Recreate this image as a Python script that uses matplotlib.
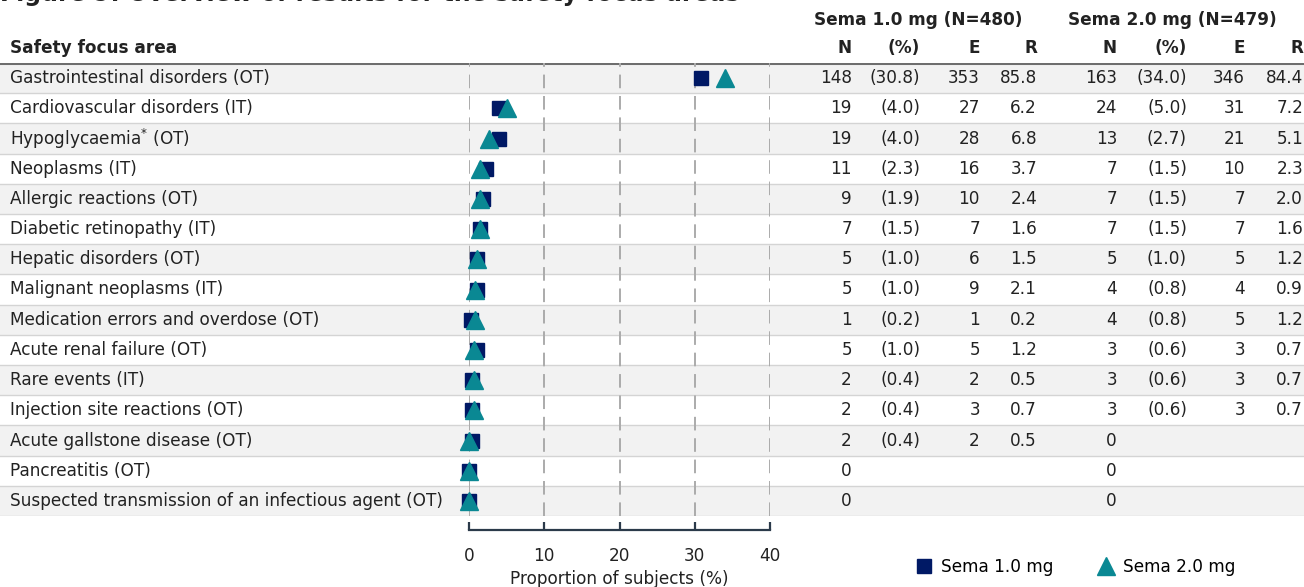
import matplotlib
matplotlib.use("Agg")
import matplotlib.pyplot as plt
from matplotlib.lines import Line2D

# data
areas = [
    "Gastrointestinal disorders (OT)",
    "Cardiovascular disorders (IT)",
    "Hypoglycaemia$^{*}$ (OT)",
    "Neoplasms (IT)",
    "Allergic reactions (OT)",
    "Diabetic retinopathy (IT)",
    "Hepatic disorders (OT)",
    "Malignant neoplasms (IT)",
    "Medication errors and overdose (OT)",
    "Acute renal failure (OT)",
    "Rare events (IT)",
    "Injection site reactions (OT)",
    "Acute gallstone disease (OT)",
    "Pancreatitis (OT)",
    "Suspected transmission of an infectious agent (OT)",
]
n_10 = [148, 19, 19, 11, 9, 7, 5, 5, 1, 5, 2, 2, 2, 0, 0]
pct_10 = [30.8, 4.0, 4.0, 2.3, 1.9, 1.5, 1.0, 1.0, 0.2, 1.0, 0.4, 0.4, 0.4, 0.0, 0.0]
e_10 = [353, 27, 28, 16, 10, 7, 6, 9, 1, 5, 2, 3, 2, None, None]
r_10 = [85.8, 6.2, 6.8, 3.7, 2.4, 1.6, 1.5, 2.1, 0.2, 1.2, 0.5, 0.7, 0.5, None, None]
n_20 = [163, 24, 13, 7, 7, 7, 5, 4, 4, 3, 3, 3, 0, 0, 0]
pct_20 = [34.0, 5.0, 2.7, 1.5, 1.5, 1.5, 1.0, 0.8, 0.8, 0.6, 0.6, 0.6, 0.0, 0.0, 0.0]
e_20 = [346, 31, 21, 10, 7, 7, 5, 4, 5, 3, 3, 3, None, None, None]
r_20 = [84.4, 7.2, 5.1, 2.3, 2.0, 1.6, 1.2, 0.9, 1.2, 0.7, 0.7, 0.7, None, None, None]
x_ticks = [0, 10, 20, 30, 40]

NAVY = "#001965"
TEAL = "#0a8893"
INK = "#222222"
W, H = 1304, 587
FS = 12.2

plt.rcParams["font.family"] = ["DejaVu Sans"]

fig = plt.figure(figsize=(W / 100, H / 100), dpi=100)

top_px, bot_px = 63, 516
nrows = len(areas)
ax_bottom = 1 - bot_px / H
ax_height = (bot_px - top_px) / H

# background/table axes spanning full width (x in pixels, y in rows)
bg = fig.add_axes([0, ax_bottom, 1, ax_height])
bg.set_xlim(0, W)
bg.set_ylim(nrows - 0.5, -0.5)
bg.axis("off")

for i in range(nrows):
    if i % 2 == 0:
        bg.axhspan(i - 0.5, i + 0.5, color="#f2f2f2", lw=0, zorder=0)
    bg.axhline(i + 0.5, color="#d4d4d4", lw=1, zorder=1)
bg.axhline(-0.5, color="#6e6e6e", lw=2.2, zorder=2)

def fmt_n(v):
    return "" if v is None else str(v)

def fmt_r(v):
    return "" if v is None else f"{v:.1f}"

cols_x = [852, 920, 980, 1037, 1117, 1187, 1245, 1303]
for i, name in enumerate(areas):
    bg.text(10, i, name, va="center", ha="left", fontsize=FS, color=INK)
    vals = [str(n_10[i]),
            f"({pct_10[i]:.1f})" if n_10[i] else "",
            fmt_n(e_10[i]), fmt_r(r_10[i]),
            str(n_20[i]),
            f"({pct_20[i]:.1f})" if n_20[i] else "",
            fmt_n(e_20[i]), fmt_r(r_20[i])]
    for x, v in zip(cols_x, vals):
        bg.text(x, i, v, va="center", ha="right", fontsize=FS, color=INK)

# headers
hy = 1 - 48 / H
fig.text(10 / W, hy, "Safety focus area", fontsize=FS, fontweight="bold",
         va="center", ha="left", color=INK)
for x, lab in zip(cols_x, ["N", "(%)", "E", "R"] * 2):
    fig.text(x / W, hy, lab, fontsize=FS, fontweight="bold", va="center",
             ha="right", color=INK)
fig.text(918 / W, 1 - 20 / H, "Sema 1.0 mg (N=480)", fontsize=FS,
         fontweight="bold", va="center", ha="center", color=INK)
fig.text(1172 / W, 1 - 20 / H, "Sema 2.0 mg (N=479)", fontsize=FS,
         fontweight="bold", va="center", ha="center", color=INK)
fig.text(0, 1 - 1 / H, "Figure 9: Overview of results for the safety focus areas",
         fontsize=17, fontweight="bold", va="baseline", ha="left", color=INK)

# forest-style plot axes
x0, x40 = 469, 770
ax = fig.add_axes([x0 / W, ax_bottom, (x40 - x0) / W, ax_height])
ax.patch.set_alpha(0)
ax.set_xlim(0, 40)
ax.set_ylim(nrows - 0.5, -0.5)
for t in x_ticks:
    ax.axvline(t, color="#ababab", lw=1.4, dashes=(7, 4), zorder=1)
rows = list(range(nrows))
ax.plot(pct_10, rows, ls="none", marker="s", ms=10, color=NAVY,
        clip_on=False, zorder=3)
ax.plot(pct_20, rows, ls="none", marker="^", ms=13, color=TEAL,
        clip_on=False, zorder=4)

for s in ["top", "right", "left"]:
    ax.spines[s].set_visible(False)
ax.spines["bottom"].set_position(("outward", 10))
ax.spines["bottom"].set_color("#2b3a4a")
ax.spines["bottom"].set_linewidth(1.6)
ax.set_yticks([])
ax.set_xticks(x_ticks)
ax.tick_params(axis="x", direction="in", length=6, width=1.6, color="#2b3a4a",
               pad=12, labelsize=FS, labelcolor=INK)
ax.set_xlabel("Proportion of subjects (%)", fontsize=FS, color=INK,
              labelpad=4)

handles = [
    Line2D([], [], ls="none", marker="s", ms=10, color=NAVY, label="Sema 1.0 mg"),
    Line2D([], [], ls="none", marker="^", ms=13, color=TEAL, label="Sema 2.0 mg"),
]
fig.legend(handles=handles, loc="center left", bbox_to_anchor=(916 / W, 1 - 567 / H),
           ncol=2, frameon=False, fontsize=FS, handletextpad=0.5,
           columnspacing=2.6, handlelength=1.0, borderaxespad=0, borderpad=0)

fig.savefig("out.png", dpi=100)
